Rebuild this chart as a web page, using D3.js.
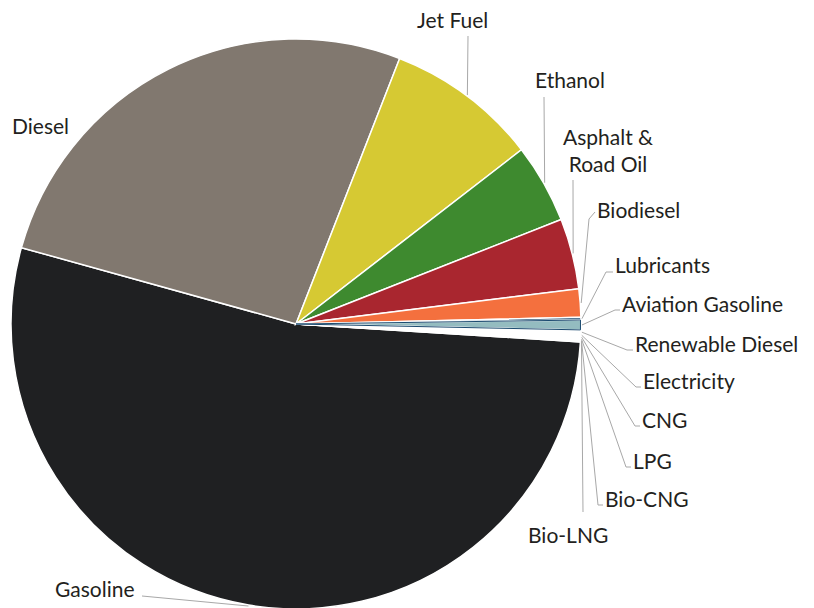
<!DOCTYPE html>
<html>
<head>
<meta charset="utf-8">
<script src="https://cdn.jsdelivr.net/npm/d3@7"></script>
<style>
  body { margin: 0; background: #fff; }
  text { font-family: Lato, "Open Sans", sans-serif; fill: #231f20; }
</style>
</head>
<body>
<div id="pie"></div>
<script>
// Fuel shares (percent), clockwise starting at Gasoline
var fuels = ["Gasoline", "Diesel", "Jet Fuel", "Ethanol", "Asphalt & Road Oil", "Biodiesel",
  "Lubricants", "Aviation Gasoline", "Renewable Diesel", "Electricity", "CNG", "LPG", "Bio-CNG", "Bio-LNG"];
var shares = [53.3, 26.6, 8.6, 4.5, 4.0, 1.6, 0.15, 0.55, 0.25, 0.1, 0.12, 0.1, 0.05, 0.05];
var fuelColors = ["#1f2022", "#81786f", "#d6c933", "#3e8a2f", "#a9262f", "#f4703e",
  "#1c4b70", "#94bcc0", "#ffffff", "#ffffff", "#ffffff", "#ffffff", "#ffffff", "#ffffff"];

var width = 814;
var height = 608;
var cx = 296, cy = 324, radius = 285;

// label placement (text anchor + leader start points)
var labelLayout = {
  "Gasoline":           { lines: ["Gasoline"], x: 55, y: 597, lead: [[142, 596]] },
  "Diesel":             { lines: ["Diesel"], x: 12, y: 134, lead: null },
  "Jet Fuel":           { lines: ["Jet Fuel"], x: 417, y: 28, lead: [[468, 36]] },
  "Ethanol":            { lines: ["Ethanol"], x: 535, y: 88, lead: [[544, 97]] },
  "Asphalt & Road Oil": { lines: ["Asphalt &", "Road Oil"], x: 608, y: 145, anchor: "middle", lead: [[573, 180]] },
  "Biodiesel":          { lines: ["Biodiesel"], x: 597, y: 218, lead: [[595, 212], [589, 219]] },
  "Lubricants":         { lines: ["Lubricants"], x: 615, y: 273, lead: [[613, 272], [606, 272]] },
  "Aviation Gasoline":  { lines: ["Aviation Gasoline"], x: 622, y: 312, lead: [[620, 310], [615, 310]] },
  "Renewable Diesel":   { lines: ["Renewable Diesel"], x: 635, y: 352, lead: [[633, 350], [627, 350]] },
  "Electricity":        { lines: ["Electricity"], x: 643, y: 389, lead: [[641, 387], [636, 387]] },
  "CNG":                { lines: ["CNG"], x: 642, y: 428, lead: [[640, 426], [635, 426]] },
  "LPG":                { lines: ["LPG"], x: 633, y: 469, lead: [[631, 467], [626, 467]] },
  "Bio-CNG":            { lines: ["Bio-CNG"], x: 605, y: 507, lead: [[603, 505], [598, 505]] },
  "Bio-LNG":            { lines: ["Bio-LNG"], x: 528, y: 543, lead: [[583, 512]] }
};

var data = fuels.map(function(f, i) { return { name: f, value: shares[i], color: fuelColors[i] }; });

var svg = d3.select("#pie")
  .append("svg")
    .attr("width", width)
    .attr("height", height);

var start = 93.6 * Math.PI / 180;
var pie = d3.pie()
  .sort(null)
  .value(function(d) { return d.value; })
  .startAngle(start)
  .endAngle(start + 2 * Math.PI);

var arcs = pie(data);

var arc = d3.arc().innerRadius(0).outerRadius(radius);

var g = svg.append("g").attr("transform", "translate(" + cx + "," + cy + ")");

g.selectAll("path.slice")
  .data(arcs)
  .enter().append("path")
    .attr("class", "slice")
    .attr("d", arc)
    .style("fill", function(d) { return d.data.color; })
    .style("stroke", "#fff")
    .style("stroke-width", 1.5);

// navy outline on aviation gasoline slice
g.selectAll("path.outline")
  .data(arcs.filter(function(d) { return d.data.name == "Aviation Gasoline"; }))
  .enter().append("path")
    .attr("class", "outline")
    .attr("d", d3.arc().innerRadius(0).outerRadius(radius - 0.5))
    .style("fill", "none")
    .style("stroke", "#1c4b70")
    .style("stroke-width", 1);

// leader lines
function edgePoint(d, r) {
  var a = (d.startAngle + d.endAngle) / 2;
  return [cx + r * Math.sin(a), cy - r * Math.cos(a)];
}

var line = d3.line();
arcs.forEach(function(d) {
  var L = labelLayout[d.data.name];
  if (!L.lead) return;
  var pts = L.lead.concat([edgePoint(d, radius + 1)]);
  svg.append("path")
    .attr("d", line(pts))
    .style("fill", "none")
    .style("stroke", "#a8a8a8")
    .style("stroke-width", 1);
});

// labels
arcs.forEach(function(d) {
  var L = labelLayout[d.data.name];
  var t = svg.append("text")
    .attr("x", L.x)
    .attr("y", L.y)
    .style("font-size", "21px")
    .style("text-anchor", L.anchor || "start");
  L.lines.forEach(function(s, i) {
    t.append("tspan")
      .attr("x", L.x)
      .attr("dy", i == 0 ? 0 : 27)
      .text(s);
  });
});
</script>
</body>
</html>
